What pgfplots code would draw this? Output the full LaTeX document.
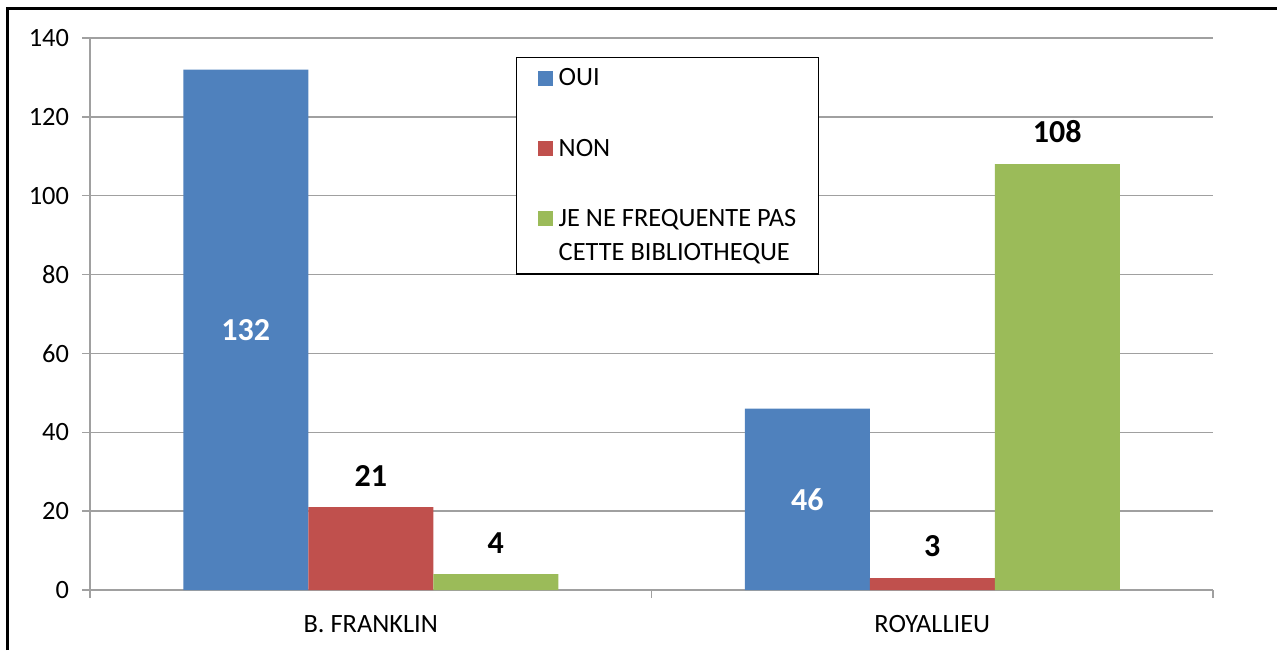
\documentclass[border=0pt]{standalone}
\usepackage{pgfplots}
\pgfplotsset{compat=1.18}
\usepackage{fontspec}
\setmainfont{Carlito}

\definecolor{oui}{HTML}{4F81BD}
\definecolor{non}{HTML}{C0504D}
\definecolor{jnf}{HTML}{9BBB59}
\definecolor{grille}{HTML}{A0A0A0}

\begin{document}
\begin{tikzpicture}
\path[use as bounding box] (0,0) rectangle (638.5pt,325pt);
\draw[line width=1.5pt] (3.5pt,0) -- (3.5pt,321pt) -- (638.5pt,321pt);
\begin{axis}[
    at={(45pt,30pt)}, anchor=south west,
    scale only axis, width=561.5pt, height=276pt,
    ybar=0pt, bar width=62.5pt,
    xmin=-0.5, xmax=1.5, ymin=0, ymax=140,
    xtick={0,1}, xticklabels={B. FRANKLIN, ROYALLIEU},
    ytick={0,20,...,140},
    ymajorgrids, grid style={grille, line width=0.75pt},
    axis x line*=bottom, axis y line*=left,
    axis line style={grille, line width=0.75pt, -},
    xtick style={draw=none},
    ytick style={grille, line width=0.75pt},
    tick align=outside, major tick length=4pt,
    extra x ticks={-0.5,0.5,1.5}, extra x tick labels={},
    extra x tick style={grid=none, xtick style={draw=grille, line width=0.75pt}},
    tick label style={font=\fontsize{13.2}{16}\selectfont},
    xticklabel style={yshift=-5pt},
    yticklabel style={xshift=-3pt},
    /pgf/number format/assume math mode=true,
    legend style={at={(rel axis cs:0.3793,0.9656)}, anchor=north west,
        draw=black, line width=0.75pt, font=\fontsize{13.2}{17}\selectfont,
        inner xsep=9pt, inner ysep=3.5pt,
        row sep=21pt, cells={anchor=west, align=left}},
    legend image code/.code={\path (0pt,0pt) (10pt,0pt);
        \fill[#1, draw=none] (1.5pt,-3.5pt) rectangle (9pt,4pt);},
    nodes near coords,
    every node near coord/.append style={font=\bfseries\fontsize{16}{19}\selectfont},
]
% OUI : etiquettes blanches au milieu des barres
\addplot[fill=oui, draw=none,
    visualization depends on=y \as \rawy,
    every node near coord/.append style={anchor=center, text=white,
        shift={(axis direction cs:0,-\rawy/2)}}]
    coordinates {(0,132) (1,46)};
\addplot[fill=non, draw=none,
    every node near coord/.append style={text=black, yshift=7pt}]
    coordinates {(0,21) (1,3)};
% carre aligne sur la premiere ligne du libelle
\addplot[fill=jnf, draw=none,
    every node near coord/.append style={text=black, yshift=7pt},
    legend image code/.code={\path (0pt,0pt) (10pt,0pt);
        \fill[jnf] (1.5pt,5pt) rectangle (9pt,12.5pt);}]
    coordinates {(0,4) (1,108)};
\addlegendentry{OUI}
\addlegendentry{NON}
\addlegendentry{JE NE FREQUENTE PAS\\CETTE BIBLIOTHEQUE}
\end{axis}
\end{tikzpicture}
\end{document}
